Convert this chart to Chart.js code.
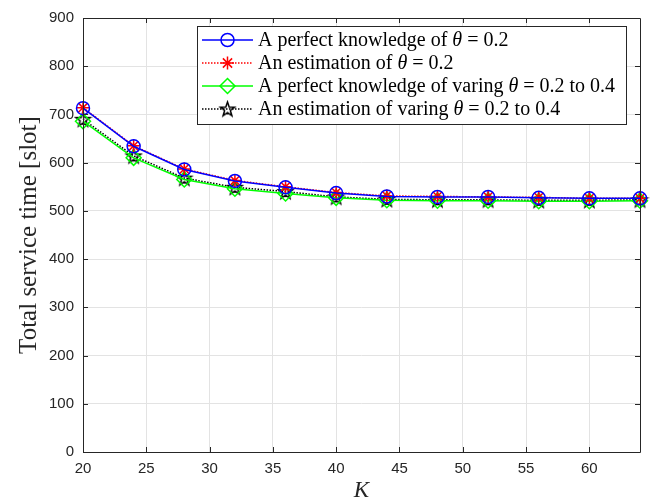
<!DOCTYPE html>
<html><head><meta charset="utf-8">
<script src="https://cdn.jsdelivr.net/npm/chart.js@4"></script>
<style>html,body{margin:0;padding:0;background:#fff}#wrap{width:656px;height:504px}</style>
</head><body><div id="wrap"><canvas id="c" width="656" height="504"></canvas></div>
<script>
const K = [20, 24, 28, 32, 36, 40, 44, 48, 52, 56, 60, 64];
const perfectFixed   = [713, 634, 586, 562, 549, 537, 530, 529, 529, 527, 526, 526];
const estFixed       = [714, 635, 587, 563, 550, 538, 531, 530, 529, 528, 526, 526];
const perfectVarying = [686, 610, 565, 546, 536, 527, 522, 521, 521, 520, 520, 521];
const estVarying     = [690, 614, 568, 549, 540, 529, 524, 523, 523, 522, 522, 523];
const xTicks = [20, 25, 30, 35, 40, 45, 50, 55, 60];
const yTicks = [0, 100, 200, 300, 400, 500, 600, 700, 800, 900];
const seriesLabels = [
  'A perfect knowledge of θ = 0.2',
  'An estimation of θ = 0.2',
  'A perfect knowledge of varing θ = 0.2 to 0.4',
  'An estimation of varing θ = 0.2 to 0.4'
];
const xTitle = 'K';
const yTitle = 'Total service time [slot]';

// pentagram marker
function makePentagram(r) {
  const s = Math.ceil(r * 2 + 4);
  const cv = document.createElement('canvas');
  cv.width = s; cv.height = s;
  const g = cv.getContext('2d');
  const cx = s / 2, cy = s / 2 + 0.6, ri = r * 0.40;
  g.beginPath();
  for (let i = 0; i < 10; i++) {
    const rr = i % 2 === 0 ? r : ri;
    const a = -Math.PI / 2 + i * Math.PI / 5;
    const px = cx + rr * Math.cos(a), py = cy + rr * Math.sin(a);
    if (i === 0) g.moveTo(px, py); else g.lineTo(px, py);
  }
  g.closePath();
  g.strokeStyle = '#000';
  g.lineWidth = 1.5;
  g.stroke();
  return cv;
}
const starImg = makePentagram(7.5);

const datasets = [
  { label: seriesLabels[0], data: perfectFixed, borderColor: '#0000ff', backgroundColor: 'rgba(0,0,0,0)',
    pointStyle: 'circle', pointRadius: 6.5, pointBorderWidth: 1.5, borderWidth: 1.5, pointBorderColor: '#0000ff' },
  { label: seriesLabels[1], data: estFixed, borderColor: '#ff0000', backgroundColor: 'rgba(0,0,0,0)',
    pointStyle: 'star', pointRadius: 6.5, pointBorderWidth: 1.5, borderWidth: 1.5, borderDash: [1.5, 1.5], pointBorderColor: '#ff0000' },
  { label: seriesLabels[2], data: perfectVarying, borderColor: '#00ff00', backgroundColor: 'rgba(0,0,0,0)',
    pointStyle: 'rectRot', pointRadius: 7.5, pointBorderWidth: 1.5, borderWidth: 1.5, pointBorderColor: '#00ff00' },
  { label: seriesLabels[3], data: estVarying, borderColor: '#000000', backgroundColor: 'rgba(0,0,0,0)',
    pointStyle: starImg, pointRadius: 7.5, pointBorderWidth: 1.5, borderWidth: 1.5, borderDash: [1.5, 1.5], pointBorderColor: '#000000' }
].map(d => Object.assign(d, { data: d.data.map((v, i) => ({ x: K[i], y: v })), tension: 0, clip: false, fill: false }));

const axisColor = '#262626';
const serif = '"Liberation Serif", "DejaVu Serif", serif';

function drawMarker(ctx, ds, x, y) {
  ctx.save();
  ctx.strokeStyle = ds.borderColor;
  ctx.lineWidth = ds.pointBorderWidth;
  ctx.setLineDash([]);
  const r = ds.pointRadius;
  if (ds.pointStyle === 'circle') {
    ctx.beginPath(); ctx.arc(x, y, r, 0, Math.PI * 2); ctx.stroke();
  } else if (ds.pointStyle === 'star') {
    ctx.beginPath();
    for (let i = 0; i < 4; i++) {
      const a = i * Math.PI / 4;
      ctx.moveTo(x - r * Math.cos(a), y - r * Math.sin(a));
      ctx.lineTo(x + r * Math.cos(a), y + r * Math.sin(a));
    }
    ctx.stroke();
  } else if (ds.pointStyle === 'rectRot') {
    ctx.beginPath();
    ctx.moveTo(x, y - r); ctx.lineTo(x + r, y); ctx.lineTo(x, y + r); ctx.lineTo(x - r, y); ctx.closePath(); ctx.stroke();
  } else {
    const img = ds.pointStyle;
    ctx.drawImage(img, x - img.width / 2, y - img.height / 2);
  }
  ctx.restore();
}

const framePlugin = {
  id: 'frame',
  afterDatasetsDraw(chart) {
    const { ctx, chartArea: a, scales } = chart;
    ctx.save();
    ctx.strokeStyle = axisColor;
    ctx.lineWidth = 1;
    ctx.setLineDash([]);
    ctx.beginPath();
    ctx.rect(Math.round(a.left) + 0.5, Math.round(a.top) + 0.5, Math.round(a.right - a.left), Math.round(a.bottom - a.top));
    ctx.stroke();
    const tl = 5;
    ctx.beginPath();
    xTicks.forEach(v => {
      const px = Math.round(scales.x.getPixelForValue(v)) + 0.5;
      ctx.moveTo(px, a.bottom); ctx.lineTo(px, a.bottom - tl);
      ctx.moveTo(px, a.top); ctx.lineTo(px, a.top + tl);
    });
    yTicks.forEach(v => {
      const py = Math.round(scales.y.getPixelForValue(v)) + 0.5;
      ctx.moveTo(a.left, py); ctx.lineTo(a.left + tl, py);
      ctx.moveTo(a.right, py); ctx.lineTo(a.right - tl, py);
    });
    ctx.stroke();
    ctx.restore();
  },
  afterDraw(chart) {
    const { ctx } = chart;
    // legend box
    const bx = 197.5, by = 26.5, bw = 429, bh = 98;
    ctx.save();
    ctx.fillStyle = '#fff';
    ctx.fillRect(bx, by, bw, bh);
    ctx.strokeStyle = axisColor;
    ctx.lineWidth = 1;
    ctx.strokeRect(bx, by, bw, bh);
    const rows = [40, 63, 86, 109];
    const fs = 20;
    chart.data.datasets.forEach((ds, i) => {
      const y = rows[i];
      ctx.save();
      ctx.strokeStyle = ds.borderColor;
      ctx.lineWidth = ds.borderWidth;
      ctx.setLineDash(ds.borderDash || []);
      ctx.beginPath(); ctx.moveTo(202, y); ctx.lineTo(253, y); ctx.stroke();
      ctx.restore();
      drawMarker(ctx, ds, 227.5, y);
      // text with italic theta
      const parts = ds.label.split('θ');
      let tx = 258;
      ctx.fillStyle = '#000';
      ctx.textBaseline = 'middle';
      ctx.textAlign = 'left';
      parts.forEach((p, j) => {
        ctx.font = fs + 'px ' + serif;
        ctx.fillText(p, tx, y + 1);
        tx += ctx.measureText(p).width;
        if (j < parts.length - 1) {
          ctx.font = 'italic ' + fs + 'px ' + serif;
          ctx.fillText('θ', tx, y + 1);
          tx += ctx.measureText('θ').width;
        }
      });
    });
    ctx.restore();
  }
};

new Chart(document.getElementById('c'), {
  type: 'line',
  data: { datasets },
  options: {
    responsive: false,
    animation: false,
    layout: { padding: { top: 13, right: 16, left: 0, bottom: 0 } },
    plugins: { legend: { display: false }, tooltip: { enabled: false } },
    scales: {
      x: {
        type: 'linear', min: 20, max: 64,
        afterBuildTicks: s => { s.ticks = xTicks.map(v => ({ value: v })); },
        afterFit: s => { s.height = 52; },
        grid: { color: '#e3e3e3', drawTicks: false, lineWidth: 1 },
        border: { display: false },
        ticks: { color: axisColor, font: { family: '"Liberation Sans", Arial, sans-serif', size: 15 }, padding: 8, maxRotation: 0, autoSkip: false },
        title: { display: true, text: xTitle, color: axisColor, font: { family: serif, size: 23, style: 'italic' }, padding: { top: 0, bottom: -1 } }
      },
      y: {
        type: 'linear', min: 0, max: 900,
        afterBuildTicks: s => { s.ticks = yTicks.map(v => ({ value: v })); },
        afterFit: s => { s.width = 83; },
        grid: { color: '#e3e3e3', drawTicks: false, lineWidth: 1 },
        border: { display: false },
        ticks: { color: axisColor, font: { family: '"Liberation Sans", Arial, sans-serif', size: 15 }, padding: 9 },
        title: { display: true, text: yTitle, color: axisColor, font: { family: serif, size: 25 }, padding: { top: 14, bottom: 0 } }
      }
    }
  },
  plugins: [framePlugin]
});
</script>
</body></html>
